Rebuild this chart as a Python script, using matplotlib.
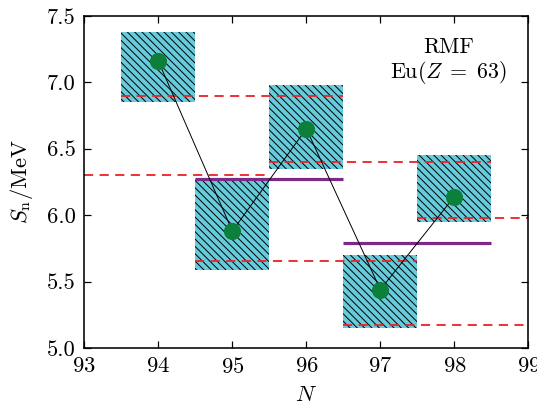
import numpy as np
import matplotlib
matplotlib.use("Agg")
from matplotlib import pyplot as plt

plt.rcParams['font.family'] = 'serif'
plt.rcParams['font.serif'] = ['cmr10', 'DejaVu Serif']
plt.rcParams['mathtext.fontset'] = 'cm'
plt.rcParams['axes.formatter.use_mathtext'] = True
plt.rcParams['hatch.linewidth'] = 0.8

# data
N = [94, 95, 96, 97, 98]
Sn = [7.16, 5.88, 6.65, 5.44, 6.14]
box_lo = [6.85, 5.59, 6.35, 5.15, 5.95]
box_hi = [7.38, 6.27, 6.98, 5.70, 6.45]

dash_y = [6.90, 6.30, 6.40, 5.655, 5.17, 5.98]
dash_x0 = [93.5, 93.0, 95.5, 94.5, 96.5, 97.5]
dash_x1 = [96.5, 95.5, 98.5, 97.5, 99.0, 99.0]

purple_y = [6.27, 5.79]
purple_x0 = [94.5, 96.5]
purple_x1 = [96.5, 98.5]

dpi = 88
fig = plt.figure(figsize=(537 / dpi, 407 / dpi), dpi=dpi)
ax = fig.add_axes([0.157, 0.145, 0.827, 0.816])

heights = np.array(box_hi) - np.array(box_lo)
ax.bar(N, heights, bottom=box_lo, width=1.0, color='#66cbdb',
       edgecolor='black', linewidth=0, hatch='\\\\\\\\', zorder=1)

ax.hlines(dash_y, dash_x0, dash_x1, colors='#e8262b', linestyles=(0, (5, 3.5)),
          linewidth=1.5, zorder=2)
ax.hlines(purple_y, purple_x0, purple_x1, colors='#7d2a86', linewidth=2.6, zorder=3)

ax.plot(N, Sn, color='black', linewidth=0.8, zorder=4)
ax.plot(N, Sn, 'o', color='#0c7f3a', markersize=13, zorder=5)

ax.text(0.82, 0.907, 'RMF', transform=ax.transAxes, ha='center', va='center', fontsize=18)
ax.text(0.82, 0.828, r'${\rm Eu}(Z\;=\;63)$', transform=ax.transAxes, ha='center',
        va='center', fontsize=18)

ax.set_xlim(93, 99)
ax.set_ylim(5.0, 7.5)
ax.set_xticks(np.arange(93, 100, 1))
ax.set_yticks(np.arange(5.0, 7.51, 0.5))
ax.set_yticklabels(['5.0', '5.5', '6.0', '6.5', '7.0', '7.5'])
ax.tick_params(direction='in', top=True, right=True, length=5.5, width=1.0,
               labelsize=18.5, pad=7)
for s in ax.spines.values():
    s.set_linewidth(1.3)

ax.set_xlabel(r'$N$', fontsize=18.5, labelpad=7)
ax.set_ylabel(r'$S_{\rm n}/{\rm MeV}$', fontsize=18.5, labelpad=10)

fig.savefig('out.png', dpi=dpi)
